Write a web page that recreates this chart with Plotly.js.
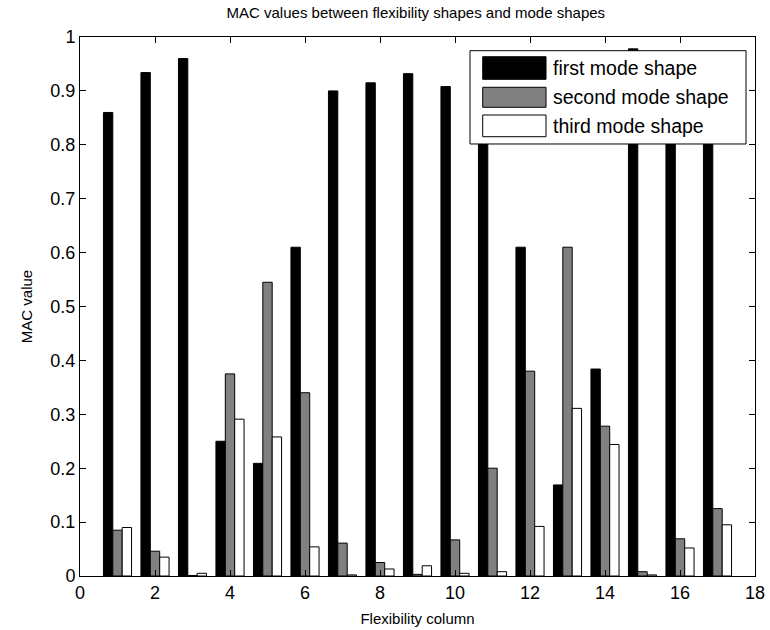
<!DOCTYPE html>
<html>
<head>
<meta charset="utf-8">
<script src="https://cdn.plot.ly/plotly-3.0.1.min.js"></script>
<style>html,body{margin:0;padding:0;background:#fff;}#chart{width:770px;height:630px;}</style>
</head>
<body>
<div id="chart"></div>
<script>
const columns = [1,2,3,4,5,6,7,8,9,10,11,12,13,14,15,16,17];
const firstMode  = [0.860,0.934,0.960,0.250,0.209,0.610,0.900,0.915,0.932,0.908,0.930,0.610,0.169,0.384,0.978,0.960,0.910];
const secondMode = [0.085,0.046,0.001,0.375,0.545,0.340,0.061,0.025,0.003,0.067,0.200,0.380,0.610,0.278,0.008,0.069,0.125];
const thirdMode  = [0.090,0.035,0.005,0.291,0.258,0.054,0.002,0.013,0.019,0.005,0.008,0.092,0.311,0.244,0.002,0.052,0.095];
const seriesNames = ['first mode shape','second mode shape','third mode shape'];
const xTicks = [0,2,4,6,8,10,12,14,16,18];
const yTicks = [0,0.1,0.2,0.3,0.4,0.5,0.6,0.7,0.8,0.9,1];

const fills = ['#000000','#808080','#ffffff'];
const series = [firstMode, secondMode, thirdMode];
const traces = series.map((vals,i)=>({
  type:'bar', x:columns, y:vals, name:seriesNames[i],
  marker:{color:fills[i], line:{color:'#000000', width:1}},
  hoverinfo:'x+y'
}));

const font = 'Liberation Sans, Arial, sans-serif';
// custom MATLAB-like legend (paper coords)
const shapes = [
  {type:'rect', xref:'paper', yref:'paper', x0:0.5778, x1:0.9867, y0:0.8015, y1:0.9746,
   fillcolor:'#ffffff', line:{color:'#000000', width:1}, layer:'above'}
];
const rows = [[0.9634,0.9215],[0.9067,0.8696],[0.8553,0.8150]];
const annotations = [];
rows.forEach((r,i)=>{
  shapes.push({type:'rect', xref:'paper', yref:'paper', x0:0.5966, x1:0.6904, y0:r[1], y1:r[0],
    fillcolor:fills[i], line:{color:'#000000', width:1}, layer:'above'});
  annotations.push({xref:'paper', yref:'paper', x:0.6975, y:(r[0]+r[1])/2, xanchor:'left', yanchor:'middle',
    text:seriesNames[i], showarrow:false, font:{family:font, size:19.5, color:'#000000'}});
});

const layout = {
  width:770, height:630,
  margin:{l:80, r:15, t:37, b:54},
  paper_bgcolor:'#ffffff', plot_bgcolor:'#ffffff',
  barmode:'group', bargap:0.25, bargroupgap:0,
  showlegend:false,
  title:{text:'MAC values between flexibility shapes and mode shapes', font:{family:font, size:15, color:'#000000'},
    x:0.54, xanchor:'center', y:0.979, yanchor:'middle'},
  xaxis:{range:[0,18], tickvals:xTicks, ticktext:xTicks.map(String), ticks:'inside', ticklen:6, tickcolor:'#000',
    showline:true, linecolor:'#000', linewidth:1, mirror:'ticks', showgrid:false, zeroline:false,
    tickfont:{family:font, size:18, color:'#000'},
    title:{text:'Flexibility column', font:{family:font, size:15, color:'#000'}, standoff:11}},
  yaxis:{range:[0,1], tickvals:yTicks, ticktext:yTicks.map(String), ticks:'inside', ticklen:6, tickcolor:'#000',
    showline:true, linecolor:'#000', linewidth:1, mirror:'ticks', showgrid:false, zeroline:false,
    tickfont:{family:font, size:18, color:'#000'},
    title:{text:'MAC value', font:{family:font, size:15, color:'#000'}, standoff:14}},
  shapes:shapes, annotations:annotations
};
Plotly.newPlot('chart', traces, layout, {displayModeBar:false, staticPlot:true});
</script>
</body>
</html>
